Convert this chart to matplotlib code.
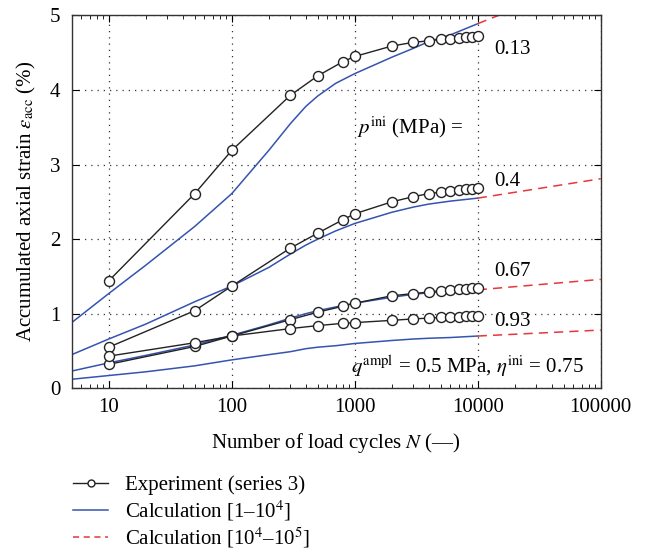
import matplotlib
matplotlib.use("Agg")
import matplotlib.pyplot as plt
import numpy as np

plt.rcParams['font.family'] = ['Liberation Serif', 'DejaVu Serif']
plt.rcParams['mathtext.fontset'] = 'stix'

# experiment (series 3)
N_exp = [10, 50, 100, 300, 500, 800, 1000, 2000, 3000, 4000, 5000, 6000, 7000, 8000, 9000, 10000]
exp_013 = [1.44, 2.61, 3.19, 3.93, 4.19, 4.38, 4.45, 4.59, 4.64, 4.66, 4.68, 4.69, 4.70, 4.71, 4.71, 4.72]
exp_040 = [0.55, 1.04, 1.37, 1.88, 2.08, 2.26, 2.34, 2.50, 2.57, 2.61, 2.63, 2.65, 2.66, 2.67, 2.67, 2.68]
exp_067 = [0.32, 0.56, 0.70, 0.92, 1.02, 1.10, 1.14, 1.24, 1.27, 1.29, 1.31, 1.32, 1.33, 1.33, 1.34, 1.34]
exp_093 = [0.43, 0.61, 0.70, 0.80, 0.84, 0.87, 0.88, 0.91, 0.93, 0.94, 0.95, 0.96, 0.96, 0.97, 0.97, 0.97]

# calculation 1 - 1e4
N_calc = [5, 10, 20, 50, 100, 200, 300, 400, 500, 700, 1000, 2000, 3000, 4000, 6000, 10000]
calc_013 = [0.88, 1.27, 1.65, 2.17, 2.61, 3.19, 3.55, 3.78, 3.92, 4.09, 4.22, 4.44, 4.56, 4.65, 4.74, 4.89]
calc_040 = [0.45, 0.66, 0.86, 1.16, 1.37, 1.62, 1.80, 1.92, 2.00, 2.11, 2.21, 2.36, 2.43, 2.47, 2.51, 2.55]
calc_067 = [0.23, 0.34, 0.44, 0.58, 0.71, 0.85, 0.94, 1.00, 1.04, 1.09, 1.14, 1.22, 1.26, 1.28, 1.30, 1.32]
calc_093 = [0.12, 0.17, 0.22, 0.30, 0.38, 0.45, 0.49, 0.53, 0.55, 0.57, 0.60, 0.64, 0.66, 0.67, 0.68, 0.70]

# calculation 1e4 - 1e5
N_ext = [10000, 100000]
ext_013 = [4.89, 5.55]
ext_040 = [2.55, 2.81]
ext_067 = [1.32, 1.46]
ext_093 = [0.70, 0.78]

p_labels = ['0.13', '0.4', '0.67', '0.93']
label_y = [4.55, 2.77, 1.57, 0.90]

blue = '#3553b0'
red = '#e8363a'
fs = 15

fig = plt.figure(figsize=(6.46, 5.53), dpi=100)
ax = fig.add_axes([0.111, 0.298, 0.819, 0.674])

for ys in [calc_013, calc_040, calc_067, calc_093]:
    ax.plot(N_calc, ys, color=blue, lw=1.1, zorder=2)
for ys in [ext_013, ext_040, ext_067, ext_093]:
    ax.plot(N_ext, ys, color=red, lw=1.1, ls=(0, (6, 4)), zorder=2)
for ys in [exp_013, exp_040, exp_067, exp_093]:
    ax.plot(N_exp, ys, color='#222222', lw=1.0, marker='o', ms=7.2,
            mfc='white', mec='#222222', mew=1.0, zorder=3)

ax.set_xscale('log')
ax.set_xlim(5, 100000)
ax.set_ylim(0, 5)
ax.set_xticks([10, 100, 1000, 10000, 100000])
ax.set_xticklabels(['10', '100', '1000', '10000', '100000'])
ax.set_yticks([0, 1, 2, 3, 4, 5])
ax.tick_params(which='both', direction='in', top=True, right=True, labelsize=fs)
ax.tick_params(which='major', length=5)
ax.tick_params(which='minor', length=3)
ax.tick_params(axis='x', which='major', pad=7)
ax.tick_params(axis='y', which='major', pad=8)
ax.tick_params(axis='y', which='minor', left=False, right=False)
ax.grid(True, which='major', ls=(0, (1, 4)), color='#333333', lw=0.9)

for s in ax.spines.values():
    s.set_linewidth(1.0)
    s.set_color('#333333')

for lab, y in zip(p_labels, label_y):
    ax.text(13500, y, lab, fontsize=fs, va='center', ha='left')

ax.text(1040, 3.5, r'$p^{\mathrm{ini}}$ (MPa) =', fontsize=fs, va='center', ha='left')
ax.text(72000, 0.29, r'$q^{\mathrm{ampl}}$ = 0.5 MPa, $\eta^{\mathrm{ini}}$ = 0.75',
        fontsize=fs, va='center', ha='right')

ax.set_xlabel(r'Number of load cycles $N$ (—)', fontsize=fs, labelpad=10)
ax.set_ylabel(r'Accumulated axial strain $\varepsilon_{\mathrm{acc}}$ (%)', fontsize=fs, labelpad=9)

h1, = ax.plot([], [], color='#222222', lw=1.0, marker='o', ms=5, mfc='white', mec='#222222')
h2, = ax.plot([], [], color=blue, lw=1.1)
h3, = ax.plot([], [], color=red, lw=1.1, ls=(0, (4, 3)))
fig.legend([h1, h2, h3],
           ['Experiment (series 3)', r'Calculation [1–10$^4$]', r'Calculation [10$^4$–10$^5$]'],
           loc='upper left', bbox_to_anchor=(0.113, 0.14), frameon=False,
           fontsize=fs, handlelength=1.7, borderpad=0, borderaxespad=0,
           labelspacing=0.12, handletextpad=0.8)

fig.savefig('out.png', dpi=100)
